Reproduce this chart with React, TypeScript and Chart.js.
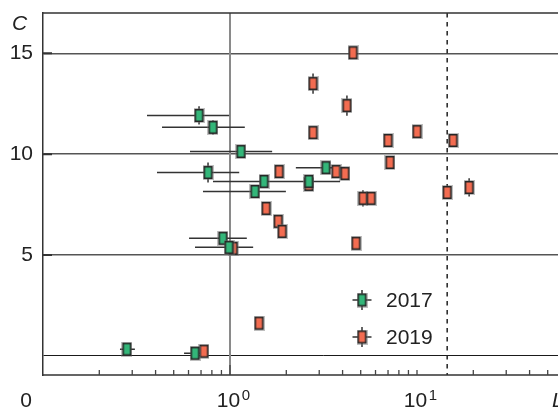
import React, { useEffect, useRef } from 'react';
import { Chart, registerables } from 'chart.js';
Chart.register(...registerables);

const FONT = '"Liberation Sans", Arial, sans-serif';

// 2017 series (green)
const g17X = [0.683, 0.811, 1.145, 0.763, 1.52, 1.36, 2.64, 3.26, 0.917, 0.988, 0.281, 0.65];
const g17Y = [11.92, 11.33, 10.13, 9.09, 8.65, 8.15, 8.65, 9.33, 5.83, 5.38, 0.33, 0.13];
const g17XLo = [0.36, 0.433, 0.611, 0.407, 0.811, 0.717, 2.0, 2.25, 0.604, 0.65, 0.258, 0.568];
const g17XHi = [0.99, 1.2, 1.68, 1.12, 2.23, 1.99, 3.88, 4.12, 1.23, 1.33, 0.31, 0.717];
const g17YErr = [0.45, 0.35, 0, 0.5, 0, 0, 0, 0, 0, 0, 0, 0];

// 2019 series (red)
const r19X = [4.55, 2.78, 4.22, 2.78, 7.0, 10.0, 15.6, 7.17, 1.83, 3.69, 4.12, 2.64, 5.14, 5.68, 14.5, 19.0, 1.56, 1.81, 1.9, 1.04, 4.72, 1.43, 0.726];
const r19Y = [15.03, 13.5, 12.41, 11.07, 10.68, 11.12, 10.68, 9.59, 9.14, 9.14, 9.04, 8.5, 7.81, 7.81, 8.1, 8.35, 7.31, 6.67, 6.17, 5.33, 5.58, 1.62, 0.23];
const r19YErr = [0, 0.5, 0.5, 0, 0, 0, 0, 0, 0, 0, 0, 0, 0.4, 0, 0, 0.45, 0, 0, 0, 0, 0, 0, 0];

const seriesNames = ['2017', '2019'];
const seriesColors = ['#33b679', '#f36c51'];

const yTicks = [0, 5, 10, 15];
const xLabelExps = [0, 1];
const thresholdX = 14.5;
const refLineX = 1;

function makeMarker(fill: string): HTMLCanvasElement {
  const c = document.createElement('canvas');
  c.width = 11;
  c.height = 15;
  const g = c.getContext('2d')!;
  g.fillStyle = 'rgba(110,110,110,0.45)';
  g.fillRect(0, 0, 11, 15);
  g.fillStyle = '#262626';
  g.fillRect(1, 1, 9, 13);
  g.fillStyle = fill;
  g.fillRect(2.5, 2.5, 6, 10);
  return c;
}

export default function App() {
  const ref = useRef<HTMLCanvasElement | null>(null);

  useEffect(() => {
    if (!ref.current) return;
    const markers = seriesColors.map(makeMarker);

    const decor = {
      id: 'decor',
      beforeDatasetsDraw(chart: any) {
        const { ctx, chartArea: a, scales } = chart;
        const xs = scales.x;
        const ys = scales.y;
        ctx.save();
        // vertical reference line at x = 1
        const x1 = xs.getPixelForValue(refLineX);
        ctx.strokeStyle = '#8a8a8a';
        ctx.lineWidth = 2;
        ctx.beginPath();
        ctx.moveTo(x1, a.top);
        ctx.lineTo(x1, a.bottom);
        ctx.stroke();
        // dashed threshold
        const xt = xs.getPixelForValue(thresholdX);
        ctx.strokeStyle = '#222';
        ctx.lineWidth = 1.5;
        ctx.setLineDash([4.5, 4.5]);
        ctx.beginPath();
        ctx.moveTo(xt, a.top);
        ctx.lineTo(xt, a.bottom);
        ctx.stroke();
        ctx.setLineDash([]);
        // top and bottom borders
        ctx.strokeStyle = '#333';
        ctx.lineWidth = 1.5;
        ctx.beginPath();
        ctx.moveTo(a.left, a.top);
        ctx.lineTo(a.right, a.top);
        ctx.moveTo(a.left, a.bottom);
        ctx.lineTo(a.right, a.bottom);
        ctx.stroke();
        // x minor ticks inward
        ctx.strokeStyle = '#444';
        ctx.lineWidth = 1.3;
        ctx.beginPath();
        for (let e = -1; e <= 1; e++) {
          for (let k = 1; k <= 9; k++) {
            const v = k * Math.pow(10, e);
            if (v <= 0.1) continue;
            const px = xs.getPixelForValue(v);
            const len = v === 1 ? 10 : 5;
            ctx.moveTo(px, a.bottom);
            ctx.lineTo(px, a.bottom - len);
          }
        }
        ctx.stroke();
        // y inward ticks
        ctx.strokeStyle = '#333';
        ctx.lineWidth = 2;
        ctx.beginPath();
        for (const v of yTicks) {
          if (v === 0) continue;
          const py = ys.getPixelForValue(v);
          ctx.moveTo(a.left, py);
          ctx.lineTo(a.left + 9, py);
        }
        ctx.stroke();
        // error bars
        ctx.strokeStyle = '#333';
        ctx.lineWidth = 1.5;
        ctx.beginPath();
        g17X.forEach((x, i) => {
          const px = xs.getPixelForValue(x);
          const py = ys.getPixelForValue(g17Y[i]);
          ctx.moveTo(xs.getPixelForValue(g17XLo[i]), py);
          ctx.lineTo(xs.getPixelForValue(g17XHi[i]), py);
          if (g17YErr[i] > 0) {
            ctx.moveTo(px, ys.getPixelForValue(g17Y[i] + g17YErr[i]));
            ctx.lineTo(px, ys.getPixelForValue(g17Y[i] - g17YErr[i]));
          }
        });
        r19X.forEach((x, i) => {
          if (r19YErr[i] > 0) {
            const px = xs.getPixelForValue(x);
            ctx.moveTo(px, ys.getPixelForValue(r19Y[i] + r19YErr[i]));
            ctx.lineTo(px, ys.getPixelForValue(r19Y[i] - r19YErr[i]));
          }
        });
        ctx.stroke();
        ctx.restore();
      },
      afterDraw(chart: any) {
        const { ctx, chartArea: a, scales } = chart;
        const xs = scales.x;
        ctx.save();
        ctx.fillStyle = '#222';
        ctx.textBaseline = 'alphabetic';
        // x tick labels with superscripts
        for (const e of xLabelExps) {
          const px = xs.getPixelForValue(Math.pow(10, e));
          ctx.font = `21px ${FONT}`;
          const w = ctx.measureText('10').width;
          const left = px - 1.5 - w / 2;
          ctx.textAlign = 'left';
          ctx.fillText('10', left, 407);
          ctx.font = `15px ${FONT}`;
          ctx.fillText(String(e), left + w + 1.5, 400);
        }
        // origin label
        ctx.font = `21px ${FONT}`;
        ctx.textAlign = 'center';
        ctx.fillText('0', 26, 407);
        // axis titles
        ctx.font = `italic 21px ${FONT}`;
        ctx.textAlign = 'left';
        ctx.fillText('C', 12, 30);
        ctx.fillText('L', 552, 407);
        // legend
        const lx = a.left + 319;
        const ly = [a.top + 287, a.top + 324];
        ly.forEach((yy, i) => {
          ctx.strokeStyle = '#333';
          ctx.lineWidth = 1.5;
          ctx.beginPath();
          ctx.moveTo(lx - 9.5, yy);
          ctx.lineTo(lx + 9.5, yy);
          ctx.moveTo(lx, yy - 10);
          ctx.lineTo(lx, yy + 10);
          ctx.stroke();
          const m = markers[i];
          ctx.drawImage(m, lx - m.width / 2, yy - m.height / 2);
          ctx.fillStyle = '#222';
          ctx.font = `21px ${FONT}`;
          ctx.textAlign = 'left';
          ctx.textBaseline = 'middle';
          ctx.fillText(seriesNames[i], lx + 24, yy + 1);
        });
        ctx.restore();
      },
    };

    const chart = new Chart(ref.current, {
      type: 'scatter',
      data: {
        datasets: [
          {
            label: seriesNames[0],
            data: g17X.map((x, i) => ({ x, y: g17Y[i] })),
            pointStyle: markers[0] as any,
            pointRadius: 6,
            backgroundColor: seriesColors[0],
          },
          {
            label: seriesNames[1],
            data: r19X.map((x, i) => ({ x, y: r19Y[i] })),
            pointStyle: markers[1] as any,
            pointRadius: 6,
            backgroundColor: seriesColors[1],
          },
        ],
      },
      options: {
        animation: false,
        responsive: false,
        events: [],
        layout: { padding: { top: 13, right: 36, left: 0, bottom: 0 } },
        plugins: { legend: { display: false }, tooltip: { enabled: false } },
        scales: {
          x: {
            type: 'logarithmic',
            min: 0.1,
            max: 100,
            ticks: { display: false },
            grid: { display: false },
            border: { display: false },
            afterFit: (s: any) => {
              s.height = 32;
              s.paddingLeft = 0;
              s.paddingRight = 0;
              s.paddingTop = 0;
              s.paddingBottom = 0;
            },
          },
          y: {
            type: 'linear',
            min: -0.95,
            max: 17,
            ticks: {
              stepSize: 5,
              includeBounds: false,
              padding: 10,
              color: '#222',
              font: { family: FONT, size: 21 },
              callback: (v: any) => (v === 0 ? '' : String(v)),
            },
            grid: {
              drawTicks: false,
              color: (c: any) => (c.tick && c.tick.value === 0 ? '#1a1a1a' : '#555'),
              lineWidth: (c: any) => (c.tick && c.tick.value === 0 ? 1 : 1.5),
            },
            border: { display: true, color: '#333', width: 1.5 },
            afterFit: (s: any) => {
              s.width = 43;
              s.paddingTop = 0;
              s.paddingBottom = 0;
              s.paddingLeft = 0;
              s.paddingRight = 0;
            },
          },
        },
      },
      plugins: [decor],
    });
    return () => chart.destroy();
  }, []);

  return (
    <div style={{ position: 'fixed', left: 0, top: 0, width: 558, height: 407, overflow: 'hidden', background: '#fff' }}>
      <canvas ref={ref} width={640} height={407} style={{ display: 'block' }} />
    </div>
  );
}
